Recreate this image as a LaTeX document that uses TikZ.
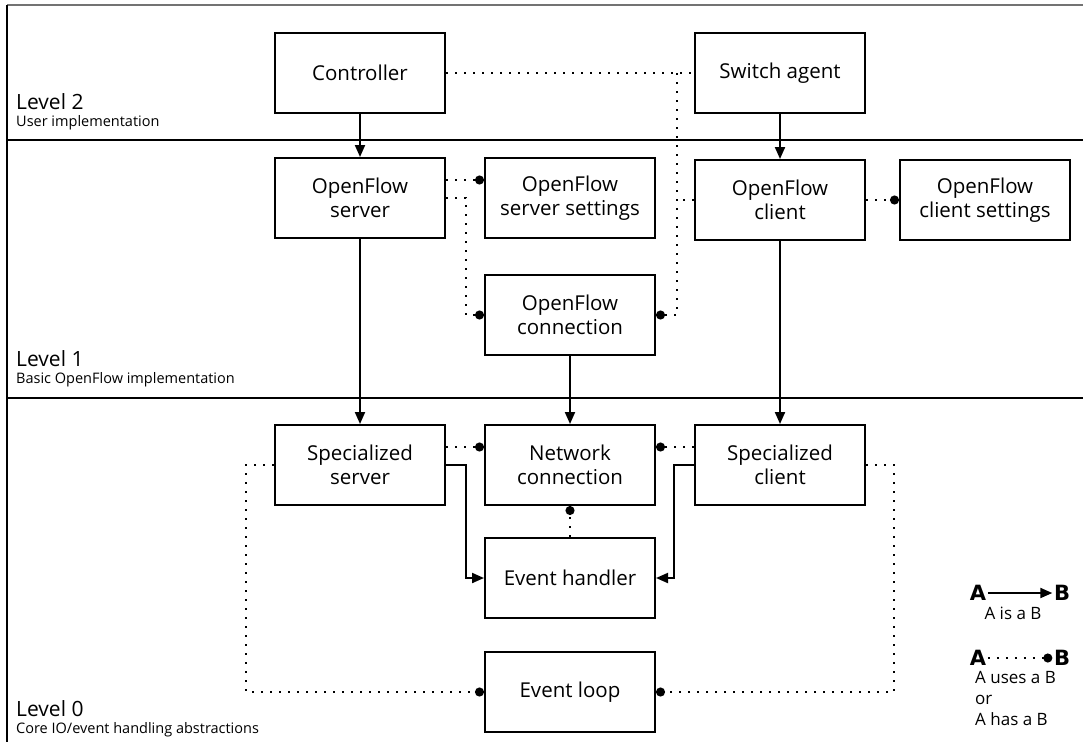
\documentclass[tikz,border=0pt]{standalone}
\usepackage{fontspec}
\setmainfont{Open Sans}
\newfontfamily\legendfont{DejaVu Sans}
\usetikzlibrary{arrows.meta}

\begin{document}
\begin{tikzpicture}[x=1pt,y=-1pt,
  box/.style={draw,line width=2pt,minimum width=170pt,minimum height=80pt,
    align=center,font=\fontsize{20.5}{24}\selectfont,inner sep=2pt},
  isa/.style={line width=2pt,-{Triangle[length=12pt,width=10pt]}},
  dotline/.style={line width=2pt,dash pattern=on 2pt off 7pt},
  uses/.style={dotline,-{Circle[length=9pt,width=9pt]}},
  lvl/.style={anchor=west,inner sep=0pt,font=\fontsize{21}{24}\selectfont},
  lvlsub/.style={anchor=west,inner sep=0pt,font=\fontsize{14.5}{17}\selectfont},
  legab/.style={inner sep=1.5pt,font=\legendfont\fontsize{21}{24}\selectfont\bfseries},
  legtxt/.style={inner sep=0pt,font=\fontsize{17}{21}\selectfont},
  frame/.style={line width=1.5pt}
]
\useasboundingbox (0,0) rectangle (1083,742);

% layer frame and separators
\draw[line width=2pt,black!55] (7,5) -- (1083,5);
\draw[frame] (7,5) -- (7,742);
\draw[frame] (7,140) -- (1083,140);
\draw[frame] (7,398) -- (1083,398);

% layer titles
\node[lvl] (l2) at (16,102) {Level 2};
\node[lvlsub] (l2s) at (16,123) {User implementation};
\node[lvl] (l1) at (16,359) {Level 1};
\node[lvlsub] (l1s) at (16,380) {Basic OpenFlow implementation};
\node[lvl] (l0) at (16,709) {Level 0};
\node[lvlsub] (l0s) at (16,730) {Core IO/event handling abstractions};

% components
\node[box] (ctrl) at (360,73) {Controller};
\node[box] (sw) at (780,73) {Switch agent};
\node[box] (ofs) at (360,198) {OpenFlow\\server};
\node[box] (ofss) at (570,198) {OpenFlow\\server settings};
\node[box] (ofc) at (780,200) {OpenFlow\\client};
\node[box] (ofcs) at (985,200) {OpenFlow\\client settings};
\node[box] (ofconn) at (570,315) {OpenFlow\\connection};
\node[box] (sps) at (360,465) {Specialized\\server};
\node[box] (net) at (570,465) {Network\\connection};
\node[box] (spc) at (780,465) {Specialized\\client};
\node[box] (evh) at (570,578) {Event handler};
\node[box] (evl) at (570,692) {Event loop};

% "is a" relations
\draw[isa] (ctrl) -- (ofs);
\draw[isa] (sw) -- (ofc);
\draw[isa] (ofs) -- (sps);
\draw[isa] (ofconn) -- (net);
\draw[isa] (ofc) -- (spc);
\draw[isa] (sps.east) -- ++(20,0) |- (evh.west);
\draw[isa] (spc.west) -- ++(-20,0) |- (evh.east);

% "uses / has" relations
\coordinate (j) at (677,73);
\draw[dotline] (ctrl.east) -- (sw.west);
\draw[uses] (j) |- (ofconn.east);
\draw[dotline] (ofc.west) -- (ofc.west -| j);
\draw[uses] ([yshift=18pt]ofs.east) -- ([yshift=18pt]ofss.west);
\draw[uses] (ofs.east) -- ++(20,0) |- (ofconn.west);
\draw[uses] (ofc.east) -- (ofcs.west);
\draw[uses] ([yshift=18pt]sps.east) -- ([yshift=18pt]net.west);
\draw[uses] ([yshift=18pt]spc.west) -- ([yshift=18pt]net.east);
\draw[uses] (evh.north) -- (net.south);
\draw[uses] (sps.west) -- ++(-28,0) |- (evl.west);
\draw[uses] (spc.east) -- ++(28,0) |- (evl.east);

% legend
\node[legab] (la1) at (978,593) {A};
\node[legab] (lb1) at (1062,593) {B};
\draw[isa] (la1) -- (lb1);
\node[legtxt] (lt1) at (1013,613) {A is a B};
\node[legab] (la2) at (978,658) {A};
\node[legab] (lb2) at (1062,658) {B};
\draw[uses] (la2) -- (lb2);
\node[legtxt,anchor=north west,align=left] (lt2) at (975,671) {A uses a B\\or\\A has a B};
\end{tikzpicture}
\end{document}
